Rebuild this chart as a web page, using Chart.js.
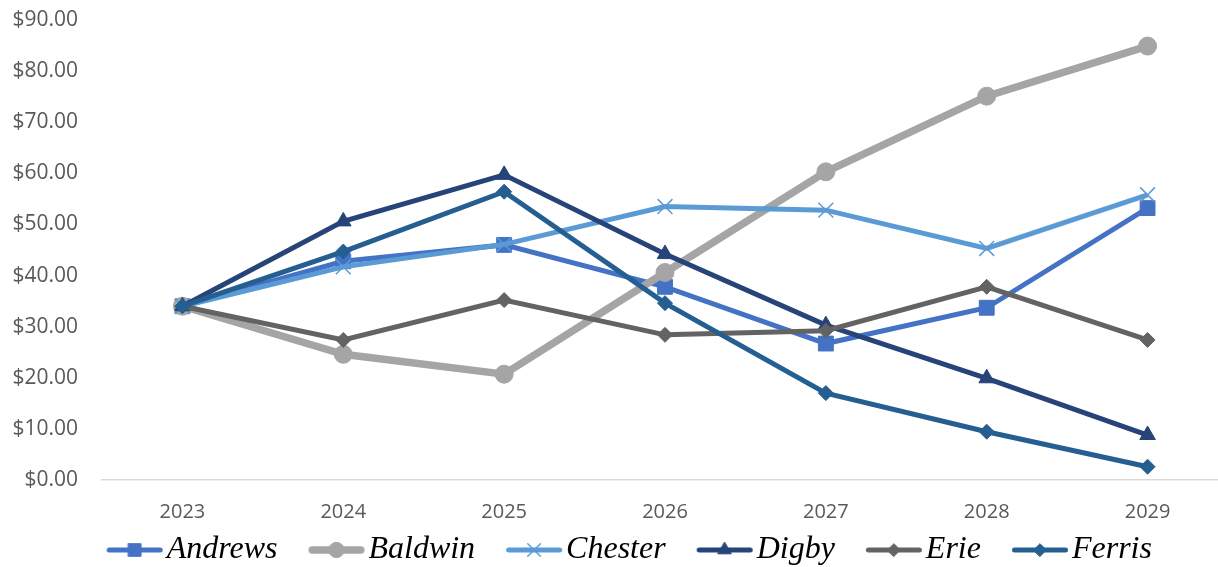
<!DOCTYPE html>
<html>
<head>
<meta charset="utf-8">
<script src="https://cdn.jsdelivr.net/npm/chart.js@4/dist/chart.umd.min.js"></script>
<style>
  html, body { margin: 0; padding: 0; background: #fff; overflow: hidden; }
  #wrap { position: relative; width: 1240px; height: 578px; }
</style>
</head>
<body>
<div id="wrap"><canvas id="priceChart"></canvas></div>
<script>
// years along the x axis
const years = ['2023', '2024', '2025', '2026', '2027', '2028', '2029'];

// share price per company, dollars
const andrews = [34.0, 42.8, 46.0, 37.8, 26.7, 33.7, 53.2];
const baldwin = [34.0, 24.6, 20.7, 40.6, 60.3, 75.1, 84.9];
const chester = [34.0, 41.7, 46.1, 53.5, 52.8, 45.3, 55.8];
const digby   = [34.0, 50.6, 59.7, 44.2, 30.3, 19.9, 8.8];
const erie    = [34.0, 27.4, 35.2, 28.4, 29.2, 37.8, 27.4];
const ferris  = [34.0, 44.7, 56.4, 34.6, 17.0, 9.45, 2.6];

const yTicks = [0, 10, 20, 30, 40, 50, 60, 70, 80, 90];

const series = [
    { label: 'Andrews', data: andrews, color: '#4472C4', style: 'rect',     r: 10.5, w: 5,   bw: 1 },
    { label: 'Baldwin', data: baldwin, color: '#A5A5A5', style: 'circle',   r: 9,    w: 7.5, bw: 1 },
    { label: 'Chester', data: chester, color: '#5B9BD5', style: 'crossRot', r: 10.5, w: 5,   bw: 1.5 },
    { label: 'Digby',   data: digby,   color: '#264478', style: 'triangle', r: 9,    w: 5,   bw: 1 },
    { label: 'Erie',    data: erie,    color: '#636363', style: 'rectRot',  r: 7.5,  w: 5,   bw: 1 },
    { label: 'Ferris',  data: ferris,  color: '#255E91', style: 'rectRot',  r: 7.5,  w: 5,   bw: 1 }
];

// legend: the icon is centred on the point-style box but hangs 14px past its
// right side, so the 56px line ends just before the label text
const BOX_W = 65;
const ICON_W = BOX_W + 28;
const LINE_W = 56;

function legendIcon(s) {
    const c = document.createElement('canvas');
    c.width = ICON_W; c.height = 24;
    const ctx = c.getContext('2d');
    const x1 = ICON_W - 2, x0 = x1 - LINE_W, cap = s.w / 2;
    ctx.strokeStyle = s.color;
    ctx.lineWidth = s.w;
    ctx.lineCap = 'round';
    ctx.beginPath();
    ctx.moveTo(x0 + cap, 12); ctx.lineTo(x1 - cap, 12);
    ctx.stroke();
    ctx.fillStyle = s.color;
    ctx.lineWidth = s.bw;
    Chart.helpers.drawPoint(ctx, { pointStyle: s.style, radius: s.r * 0.85, rotation: 0, borderWidth: s.bw }, (x0 + x1) / 2, 12);
    return c;
}

const icons = series.map(legendIcon);

new Chart(document.getElementById('priceChart'), {
    type: 'line',
    data: {
        labels: years,
        datasets: series.map((s, i) => ({
            label: s.label,
            data: s.data,
            borderColor: s.color,
            backgroundColor: s.color,
            borderWidth: s.w,
            pointStyle: s.style,
            pointRadius: s.r,
            pointBorderWidth: s.bw,
            pointBackgroundColor: s.color,
            pointBorderColor: s.color,
            tension: 0,
            order: series.length - i
        }))
    },
    options: {
        responsive: true,
        maintainAspectRatio: false,
        animation: false,
        layout: { padding: { top: 20, left: 0, right: 2.4, bottom: 2 } },
        plugins: {
            tooltip: { enabled: false },
            legend: {
                position: 'bottom',
                labels: {
                    usePointStyle: true,
                    pointStyleWidth: BOX_W,
                    padding: 10,
                    color: '#000',
                    font: { family: '"Liberation Serif", "Times New Roman", serif', style: 'italic', size: 32 },
                    generateLabels: chart => chart.data.datasets.map((ds, i) => ({
                        text: ds.label,
                        pointStyle: icons[i],
                        fillStyle: ds.borderColor,
                        strokeStyle: ds.borderColor,
                        lineWidth: 0,
                        hidden: false,
                        datasetIndex: i
                    }))
                }
            }
        },
        scales: {
            x: {
                offset: true,
                grid: { display: false, drawTicks: false },
                border: { display: true, color: '#D9D9D9', width: 1.5 },
                ticks: { color: '#595959', padding: 20, font: { family: '"Open Sans", sans-serif', size: 20 } },
                afterFit: scale => {
                    scale.height = 44;
                    scale.paddingLeft = 0;
                    scale.paddingRight = 0;
                }
            },
            y: {
                min: 0,
                max: 90,
                afterBuildTicks: scale => { scale.ticks = yTicks.map(v => ({ value: v })); },
                grid: { display: false, drawTicks: false },
                border: { display: false },
                ticks: {
                    color: '#595959',
                    padding: 24,
                    font: { family: '"Open Sans", sans-serif', size: 21 },
                    callback: v => '$' + Number(v).toFixed(2)
                },
                afterFit: scale => {
                    scale.width = 102;
                    scale.paddingTop = 0;
                    scale.paddingBottom = 0;
                }
            }
        }
    }
});
</script>
</body>
</html>
